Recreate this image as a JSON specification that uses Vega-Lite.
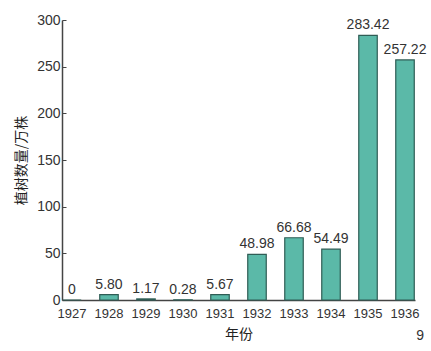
{
  "$schema": "https://vega.github.io/schema/vega-lite/v6.json",
  "autosize": "none",
  "width": 353,
  "height": 280,
  "padding": {"left": 62, "top": 20, "right": 16, "bottom": 51},
  "background": "white",
  "title": {"text": "9", "orient": "bottom", "anchor": "end", "frame": "group", "fontSize": 14, "fontWeight": "normal", "color": "#333", "font": "Liberation Sans", "offset": -12, "dx": 9},
  "config": {"view": {"stroke": null}, "font": "Liberation Sans"},
  "data": {"values": [
    {"year": "1927", "value": 0, "label": "0"},
    {"year": "1928", "value": 5.80, "label": "5.80"},
    {"year": "1929", "value": 1.17, "label": "1.17"},
    {"year": "1930", "value": 0.28, "label": "0.28"},
    {"year": "1931", "value": 5.67, "label": "5.67"},
    {"year": "1932", "value": 48.98, "label": "48.98"},
    {"year": "1933", "value": 66.68, "label": "66.68"},
    {"year": "1934", "value": 54.49, "label": "54.49"},
    {"year": "1935", "value": 283.42, "label": "283.42"},
    {"year": "1936", "value": 257.22, "label": "257.22"}
  ]},
  "encoding": {
    "x": {"field": "year", "type": "nominal", "sort": null,
      "scale": {"paddingInner": 0.5, "paddingOuter": 0.02},
      "axis": {"title": "年份", "labelAngle": 0, "ticks": false, "labelPadding": 7, "labelFont": "Liberation Sans", "labelFontSize": 13, "labelColor": "#333", "domainColor": "#444", "domainWidth": 1.5, "titleFontSize": 14, "titleFontWeight": "normal", "titleColor": "#222", "titlePadding": 7, "titleFont": "Noto Sans CJK SC"}},
    "y": {"field": "value", "type": "quantitative",
      "scale": {"domain": [0, 300], "nice": false},
      "axis": {"title": "植树数量/万株", "values": [0, 50, 100, 150, 200, 250, 300], "grid": false, "tickSize": -4, "tickColor": "#444", "labelPadding": 6, "labelFontSize": 14, "labelColor": "#333", "domainColor": "#444", "domainWidth": 1.5, "titleFontSize": 14, "titleFontWeight": "normal", "titleColor": "#222", "titlePadding": 8, "titleFont": "Noto Sans CJK SC"}}
  },
  "layer": [
    {"mark": {"type": "bar", "fill": "#5bb9a8", "stroke": "#2f5d55", "strokeWidth": 1.2}},
    {"mark": {"type": "text", "dy": -10, "fontSize": 14, "color": "#333"},
     "encoding": {"text": {"field": "label"}}}
  ]
}
